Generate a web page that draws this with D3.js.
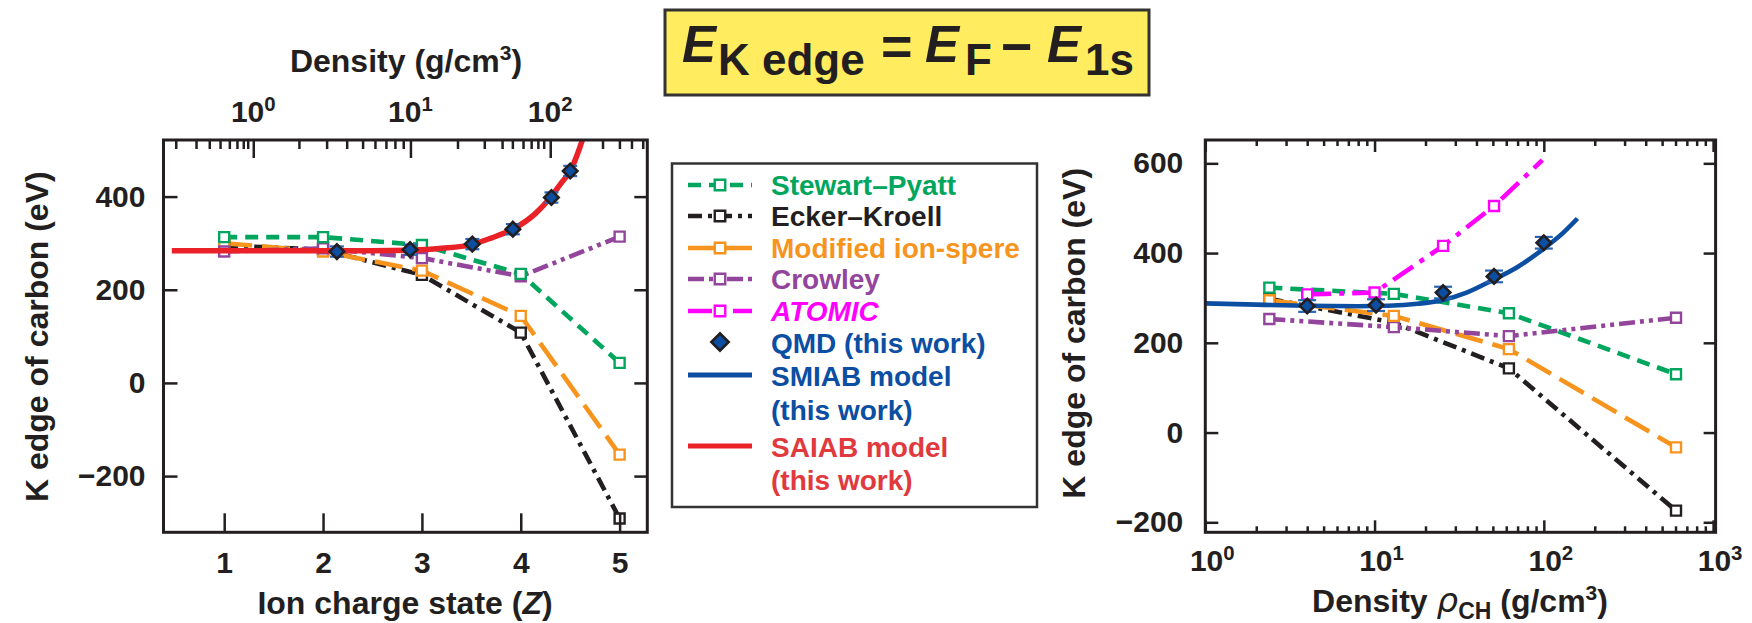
<!DOCTYPE html>
<html><head><meta charset="utf-8">
<script src="https://cdn.jsdelivr.net/npm/d3@7"></script>
<style>
body{margin:0;background:#fff}
svg{display:block}
text{font-family:"Liberation Sans",Arial,Helvetica,sans-serif;font-weight:bold}
</style>
</head><body>
<svg id="c" width="1752" height="623"></svg>
<script>
// ---------------- DATA ----------------
// Left panel: models vs ion charge state Z
const zStates      = [1, 2, 3, 4, 5];
const spLeft       = [313, 313, 296, 234, 43];
const ekLeft       = [295, 286, 232, 108, -291];
const misLeft      = [300, 282, 241, 144, -154];
const crowleyLeft  = [282, 289, 268, 229, 314];
const qmdLeftZ     = [2.14, 2.88, 3.51, 3.92, 4.31, 4.50];
const qmdLeftE     = [282, 286, 298, 330, 398, 455];
const qmdLeftErr   = [11, 11, 11, 11, 11, 11];
const saiabZ       = [0.47, 1, 1.5, 2, 2.5, 2.9, 3.2, 3.5, 3.7, 3.92, 4.15, 4.3, 4.42, 4.5, 4.6, 4.65];
const saiabE       = [284, 284, 284, 284, 284, 285, 289, 297, 311, 330, 364, 398, 432, 455, 507, 540];
const leftXTicks   = [1, 2, 3, 4, 5];
const leftYTicks   = [-200, 0, 200, 400];
// secondary (top) density axis of the left panel: density ticks and the Z at which each sits
const topTickDensity = [0.2,0.3,0.4,0.5,0.6,0.7,0.8,0.9,1,2,3,4,5,6,7,8,9,10,20,30,40,50,60,70,80,90,100,200,300,400,500];
const topTickZ       = [0.510,0.715,0.849,0.958,1.052,1.129,1.193,1.238,1.294,1.756,2.036,2.239,2.400,2.525,2.636,2.727,2.811,2.884,3.360,3.631,3.811,3.915,4.023,4.105,4.173,4.232,4.298,4.827,4.998,5.120,5.234];
const topMajorDensity = [1, 10, 100];
const topMajorExp     = ["0", "1", "2"];

// Right panel: models vs density rho_CH
const rhoModels     = [2.39, 13.0, 62.2, 604];
const spRight       = [323, 309, 266, 130];
const ekRight       = [298, 245, 143, -174];
const misRight      = [295, 260, 186, -33];
const crowleyRight  = [253, 235, 215, 256];
const atomicRho     = [4.0, 10.0, 25.4, 50.8, 98];
const atomicE       = [308, 312, 416, 505, 607];
const atomicMarkers = 4;   // markers shown on the first four ATOMIC points
const qmdRightRho   = [4.0, 10.2, 25.4, 50.8, 100];
const qmdRightE     = [282, 284, 312, 348, 423];
const qmdRightErr   = [13, 13, 13, 13, 13];
const smiabRho      = [1, 2, 4, 8, 12, 18, 25, 35, 50, 70, 100, 130, 158];
const smiabE        = [288, 285, 282.5, 281.5, 282.5, 287, 295, 312, 340, 369, 410, 445, 477];
const rightYTicks   = [-200, 0, 200, 400, 600];
const rightMajor    = [1, 10, 100, 1000];
const rightMajorExp = ["0", "1", "2", "3"];
const rightMinor    = [2,3,4,5,6,7,8,9,20,30,40,50,60,70,80,90,200,300,400,500,600,700,800,900];

// Legend
const legendLabels = ["Stewart–Pyatt", "Ecker–Kroell", "Modified ion-spere", "Crowley", "ATOMIC", "QMD (this work)", "SMIAB model", "(this work)", "SAIAB model", "(this work)"];

// ---------------- STYLE ----------------
const INK = "#231f20";
const C = {sp:"#00a65d", ek:"#231f20", mis:"#f7941d", cr:"#92459b", at:"#ff00ff", blue:"#0b4ea2", red:"#ea2228", redText:"#e0393e"};
const DASH = {sp:"13,8", ek:"14,6,4,6", mis:"28,10", cr:"16,5,4,5,4,5", at:"24,8,5,8"};
const LW = 4.6;
const FS_TICK = 30, FS_TITLE = 32;

const svg = d3.select("#c");

// ---------------- TITLE BOX ----------------
const tb = svg.append("g");
tb.append("rect").attr("x",665).attr("y",10).attr("width",484).attr("height",85)
  .attr("fill","#ffec5f").attr("stroke","#333").attr("stroke-width",3);
const titleParts = [
  {t:"E", x:682, y:62, s:51, it:true},
  {t:"K edge", x:718, y:75, s:44},
  {t:"=", x:881, y:65, s:54},
  {t:"E", x:925, y:62, s:51, it:true},
  {t:"F", x:965, y:75, s:44},
  {t:"\u2212", x:1001, y:65, s:54},
  {t:"E", x:1047, y:62, s:51, it:true},
  {t:"1s", x:1085, y:75, s:44}
];
tb.selectAll("text.tp").data(titleParts).join("text").attr("class","tp")
  .attr("x",d=>d.x).attr("y",d=>d.y).attr("font-size",d=>d.s)
  .attr("font-style",d=>d.it?"italic":"normal").attr("fill",INK).text(d=>d.t);

// ---------------- HELPERS ----------------
function styleAxis(g, fs){
  g.select(".domain").remove();
  g.attr("font-size", fs||FS_TICK).attr("font-family", null);
  g.selectAll(".tick line").attr("stroke", INK).attr("stroke-width", 2.5);
  g.selectAll(".tick text").attr("fill", INK);
}
function seriesLine(g, xs, ys, xS, yS, color, dash, w, curve){
  const pts = xs.map((x,i)=>[x, ys[i]]);
  const line = d3.line().x(d=>xS(d[0])).y(d=>yS(d[1]));
  if (curve) line.curve(curve);
  g.append("path").datum(pts).attr("d", line).attr("fill","none")
    .attr("stroke", color).attr("stroke-width", w).attr("stroke-dasharray", dash || null);
}
function squares(g, xs, ys, xS, yS, color, n){
  const pts = xs.map((x,i)=>[x, ys[i]]).slice(0, n || xs.length);
  g.selectAll(null).data(pts).join("path")
    .attr("d", d3.symbol(d3.symbolSquare, 100)())
    .attr("transform", d=>`translate(${xS(d[0])},${yS(d[1])})`)
    .attr("fill","#fff").attr("stroke", color).attr("stroke-width", 2.4);
}
function qmd(g, xs, ys, errs, xS, yS, cap){
  const pts = xs.map((x,i)=>({x, y:ys[i], e:errs[i]}));
  const eb = g.selectAll(null).data(pts).join("g").attr("stroke", "#2a66b5").attr("stroke-width", 2.2);
  eb.append("line").attr("x1",d=>xS(d.x)).attr("x2",d=>xS(d.x)).attr("y1",d=>yS(d.y-d.e)).attr("y2",d=>yS(d.y+d.e));
  eb.append("line").attr("x1",d=>xS(d.x)-cap).attr("x2",d=>xS(d.x)+cap).attr("y1",d=>yS(d.y-d.e)).attr("y2",d=>yS(d.y-d.e));
  eb.append("line").attr("x1",d=>xS(d.x)-cap).attr("x2",d=>xS(d.x)+cap).attr("y1",d=>yS(d.y+d.e)).attr("y2",d=>yS(d.y+d.e));
  g.selectAll(null).data(pts).join("path")
    .attr("d", d3.symbol(d3.symbolSquare, 105)())
    .attr("transform", d=>`translate(${xS(d.x)},${yS(d.y)}) rotate(45)`)
    .attr("fill", C.blue).attr("stroke", INK).attr("stroke-width", 2.6);
}
function powLabel(g, x, y, exp, fs){
  const t = g.append("text").attr("x",x).attr("y",y).attr("text-anchor","middle")
    .attr("font-size", fs).attr("fill", INK);
  t.append("tspan").text("10");
  t.append("tspan").attr("font-size", fs*0.68).attr("dy", -fs*0.36).text(exp);
}

// ---------------- LEFT PANEL ----------------
const xL = d3.scaleLinear().domain([0.386, 5.28]).range([163.5, 647.3]);
const yL = d3.scaleLinear().domain([-320.7, 521.5]).range([532.3, 140]);
const gL = svg.append("g");
svg.append("clipPath").attr("id","clipL").append("rect")
  .attr("x",xL.range()[0]).attr("y",yL.range()[1])
  .attr("width",xL.range()[1]-xL.range()[0]).attr("height",yL.range()[0]-yL.range()[1]);
const pL = gL.append("g").attr("clip-path","url(#clipL)");

seriesLine(pL, zStates, spLeft, xL, yL, C.sp, DASH.sp, LW);
seriesLine(pL, zStates, ekLeft, xL, yL, C.ek, DASH.ek, LW);
seriesLine(pL, zStates, misLeft, xL, yL, C.mis, DASH.mis, LW);
seriesLine(pL, zStates, crowleyLeft, xL, yL, C.cr, DASH.cr, LW);
squares(pL, zStates, ekLeft, xL, yL, C.ek);
squares(pL, zStates, misLeft, xL, yL, C.mis);
squares(pL, zStates, crowleyLeft, xL, yL, C.cr);
squares(pL, zStates, spLeft, xL, yL, C.sp);
seriesLine(pL, saiabZ, saiabE, xL, yL, C.red, null, 5.5, d3.curveMonotoneX);
qmd(gL, qmdLeftZ, qmdLeftE, qmdLeftErr, xL, yL, 7);

// frame
gL.append("rect").attr("x",xL.range()[0]).attr("y",yL.range()[1])
  .attr("width",xL.range()[1]-xL.range()[0]).attr("height",yL.range()[0]-yL.range()[1])
  .attr("fill","none").attr("stroke",INK).attr("stroke-width",3);

gL.append("g").attr("transform",`translate(0,${yL.range()[0]})`)
  .call(d3.axisBottom(xL).tickValues(leftXTicks).tickSize(-19).tickPadding(19).tickFormat(d3.format("d")))
  .call(styleAxis);
gL.append("g").attr("transform",`translate(${xL.range()[0]},0)`)
  .call(d3.axisLeft(yL).tickValues(leftYTicks).tickSize(-14).tickPadding(18))
  .call(styleAxis);
gL.append("g").attr("transform",`translate(${xL.range()[1]},0)`)
  .call(d3.axisRight(yL).tickValues(leftYTicks).tickSize(-13).tickFormat(""))
  .call(styleAxis);

// top density axis (piecewise map log10(density) -> Z -> px)
const topScale = d3.scaleLinear().domain(topTickDensity.map(Math.log10)).range(topTickZ.map(z=>xL(z)));
const topMinor = topTickDensity.filter(d=>!topMajorDensity.includes(d));
gL.append("g").attr("transform",`translate(0,${yL.range()[1]})`)
  .call(d3.axisTop(topScale).tickValues(topMinor.map(Math.log10)).tickSize(-9).tickFormat(""))
  .call(styleAxis);
gL.append("g").attr("transform",`translate(0,${yL.range()[1]})`)
  .call(d3.axisTop(topScale).tickValues(topMajorDensity.map(Math.log10)).tickSize(-18).tickFormat(""))
  .call(styleAxis);
topMajorDensity.forEach((d,i)=>powLabel(gL, topScale(Math.log10(d)), 122, topMajorExp[i], FS_TICK));

// titles
const dT = gL.append("text").attr("x",406).attr("y",72).attr("text-anchor","middle").attr("font-size",FS_TITLE).attr("fill",INK);
dT.append("tspan").text("Density (g/cm");
dT.append("tspan").attr("font-size",21).attr("dy",-12).text("3");
dT.append("tspan").attr("dy",12).text(")");

const xT = gL.append("text").attr("x",405).attr("y",614).attr("text-anchor","middle").attr("font-size",FS_TITLE).attr("fill",INK);
xT.append("tspan").text("Ion charge state (");
xT.append("tspan").attr("font-style","italic").text("Z");
xT.append("tspan").text(")");

gL.append("text").attr("transform","translate(48,336.7) rotate(-90)").attr("text-anchor","middle")
  .attr("font-size",FS_TITLE).attr("fill",INK).text("K edge of carbon (eV)");

// ---------------- RIGHT PANEL ----------------
const xR = d3.scaleLog().domain([1, 1035]).range([1205.3, 1715.6]);
const yR = d3.scaleLinear().domain([-222.3, 652]).range([532.3, 140]);
const gR = svg.append("g");
svg.append("clipPath").attr("id","clipR").append("rect")
  .attr("x",xR.range()[0]).attr("y",yR.range()[1])
  .attr("width",xR.range()[1]-xR.range()[0]).attr("height",yR.range()[0]-yR.range()[1]);
const pR = gR.append("g").attr("clip-path","url(#clipR)");

seriesLine(pR, rhoModels, spRight, xR, yR, C.sp, DASH.sp, LW);
seriesLine(pR, rhoModels, ekRight, xR, yR, C.ek, DASH.ek, LW);
seriesLine(pR, rhoModels, misRight, xR, yR, C.mis, DASH.mis, LW);
seriesLine(pR, rhoModels, crowleyRight, xR, yR, C.cr, DASH.cr, LW);
seriesLine(pR, atomicRho, atomicE, xR, yR, C.at, DASH.at, LW);
squares(pR, rhoModels, ekRight, xR, yR, C.ek);
squares(pR, rhoModels, spRight, xR, yR, C.sp);
squares(pR, rhoModels, crowleyRight, xR, yR, C.cr);
squares(pR, rhoModels, misRight, xR, yR, C.mis);
squares(pR, atomicRho, atomicE, xR, yR, C.at, atomicMarkers);
seriesLine(pR, smiabRho, smiabE, xR, yR, C.blue, null, 4.6, d3.curveMonotoneX);
qmd(gR, qmdRightRho, qmdRightE, qmdRightErr, xR, yR, 9);

gR.append("rect").attr("x",xR.range()[0]).attr("y",yR.range()[1])
  .attr("width",xR.range()[1]-xR.range()[0]).attr("height",yR.range()[0]-yR.range()[1])
  .attr("fill","none").attr("stroke",INK).attr("stroke-width",3);

gR.append("g").attr("transform",`translate(0,${yR.range()[0]})`)
  .call(d3.axisBottom(xR).tickValues(rightMajor).tickSize(-12).tickFormat("")).call(styleAxis);
gR.append("g").attr("transform",`translate(0,${yR.range()[0]})`)
  .call(d3.axisBottom(xR).tickValues(rightMinor).tickSize(-6).tickFormat("")).call(styleAxis);
gR.append("g").attr("transform",`translate(0,${yR.range()[1]})`)
  .call(d3.axisTop(xR).tickValues(rightMajor).tickSize(-12).tickFormat("")).call(styleAxis);
gR.append("g").attr("transform",`translate(0,${yR.range()[1]})`)
  .call(d3.axisTop(xR).tickValues(rightMinor).tickSize(-6).tickFormat("")).call(styleAxis);
gR.append("g").attr("transform",`translate(${xR.range()[0]},0)`)
  .call(d3.axisLeft(yR).tickValues(rightYTicks).tickSize(-13).tickPadding(22)).call(styleAxis);
gR.append("g").attr("transform",`translate(${xR.range()[1]},0)`)
  .call(d3.axisRight(yR).tickValues(rightYTicks).tickSize(-12).tickFormat("")).call(styleAxis);
rightMajor.forEach((d,i)=>powLabel(gR, xR(d)+7, 571, rightMajorExp[i], FS_TICK));

const rT = gR.append("text").attr("x",1460).attr("y",612).attr("text-anchor","middle").attr("font-size",FS_TITLE).attr("fill",INK);
rT.append("tspan").text("Density ");
rT.append("tspan").attr("font-style","italic").attr("font-weight","normal").attr("font-family","'DejaVu Sans',sans-serif").attr("font-size",34).text("\u03C1");
rT.append("tspan").attr("font-size",23).attr("dy",7).text("CH");
rT.append("tspan").attr("dy",-7).text(" (g/cm");
rT.append("tspan").attr("font-size",21).attr("dy",-12).text("3");
rT.append("tspan").attr("dy",12).text(")");

gR.append("text").attr("transform","translate(1085,333.3) rotate(-90)").attr("text-anchor","middle")
  .attr("font-size",FS_TITLE).attr("fill",INK).text("K edge of carbon (eV)");

// ---------------- LEGEND ----------------
const lg = svg.append("g");
lg.append("rect").attr("x",672).attr("y",163.5).attr("width",365).attr("height",343.5)
  .attr("fill","#fff").attr("stroke","#333").attr("stroke-width",2.5);
const legBase = [195, 226, 258, 289, 321, 353, 386, 420, 457, 490];
const legColor = [C.sp, C.ek, C.mis, C.cr, C.at, C.blue, C.blue, C.blue, C.redText, C.redText];
lg.selectAll("text.lt").data(legendLabels).join("text").attr("class","lt")
  .attr("x",771).attr("y",(d,i)=>legBase[i]).attr("font-size",28)
  .attr("fill",(d,i)=>legColor[i]).attr("font-style",(d,i)=>i===4?"italic":"normal").text(d=>d);
const lx = d3.scaleLinear().domain([0,1]).range([688,752]);
const sampleKeys = ["sp","ek","mis","cr","at"];
sampleKeys.forEach((k,i)=>{
  const yy = legBase[i]-10;
  lg.append("line").attr("x1",lx(0)).attr("x2",lx(1)).attr("y1",yy).attr("y2",yy)
    .attr("stroke",C[k]).attr("stroke-width",LW).attr("stroke-dasharray",DASH[k]);
  lg.append("path").attr("d", d3.symbol(d3.symbolSquare, 110)())
    .attr("transform",`translate(${lx(0.5)},${yy})`).attr("fill","#fff").attr("stroke",C[k]).attr("stroke-width",2.4);
});
lg.append("path").attr("d", d3.symbol(d3.symbolSquare, 150)())
  .attr("transform",`translate(${lx(0.5)},${legBase[5]-11}) rotate(45)`)
  .attr("fill",C.blue).attr("stroke",INK).attr("stroke-width",2.6);
lg.append("line").attr("x1",lx(0)).attr("x2",lx(1)).attr("y1",legBase[6]-11).attr("y2",legBase[6]-11)
  .attr("stroke",C.blue).attr("stroke-width",5);
lg.append("line").attr("x1",lx(0)).attr("x2",lx(1)).attr("y1",legBase[8]-11).attr("y2",legBase[8]-11)
  .attr("stroke",C.red).attr("stroke-width",5);
</script>
</body></html>
